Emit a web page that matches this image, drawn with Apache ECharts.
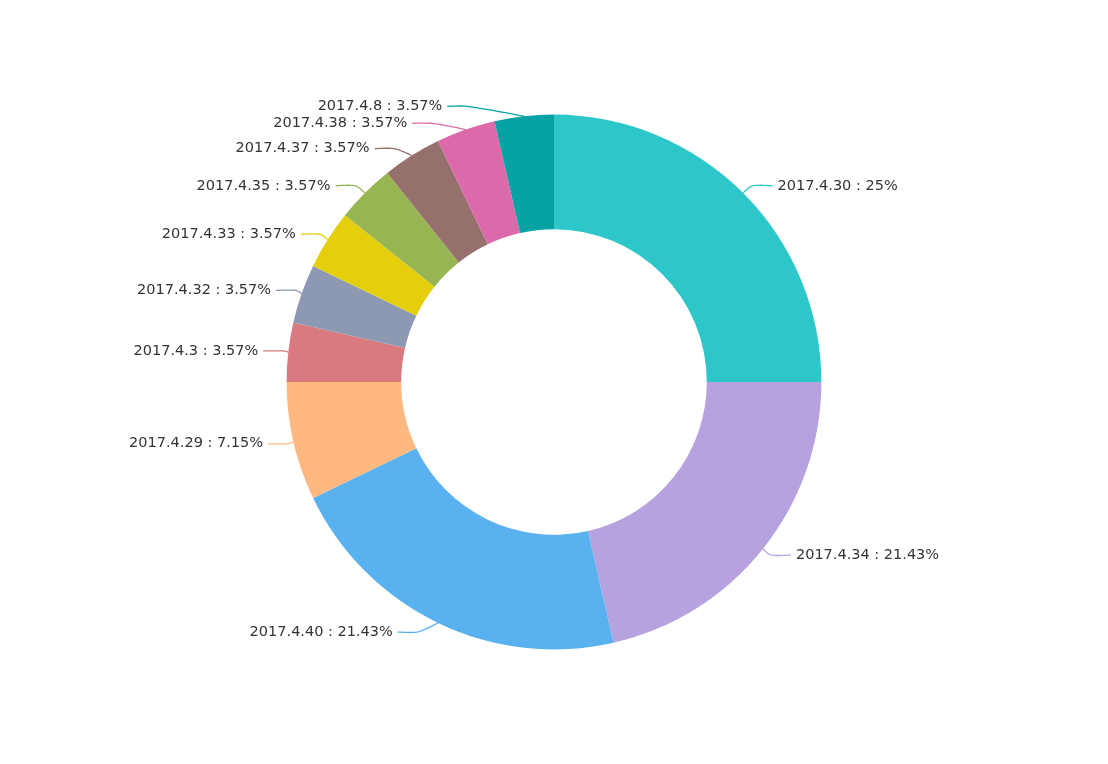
<!DOCTYPE html>
<html>
<head>
<meta charset="utf-8">
<style>html,body{margin:0;padding:0;background:#fff}#main{width:1108px;height:764px}</style>
<script src="https://cdn.jsdelivr.net/npm/echarts@6/dist/echarts.min.js"></script>
</head>
<body>
<div id="main"></div>
<script>
const categories = ['2017.4.30','2017.4.34','2017.4.40','2017.4.29','2017.4.3','2017.4.32','2017.4.33','2017.4.35','2017.4.37','2017.4.38','2017.4.8'];
const values = [7,6,6,2,1,1,1,1,1,1,1];
const colors = ['#2ec7c9','#b6a2de','#5ab1ef','#ffb980','#d87a80','#8d98b3','#e5cf0d','#97b552','#95706d','#dc69aa','#07a2a4'];

const chart = echarts.init(document.getElementById('main'), null, {renderer:'canvas'});

// Label layout (classic pie label placement: labels pushed apart vertically,
// then x re-fitted on a circle of radius r + length + length2)
const RADIUS_IN = 0.40, RADIUS_OUT = 0.70;
const LEN1 = 10, LEN2 = 20, DIST = 5, LABEL_H = 17, SMOOTH = 0.3;

function computeLayout(W, H) {
  const cx = W / 2, cy = H / 2, r = Math.min(W, H) / 2 * RADIUS_OUT;
  const sum = values.reduce((a, b) => a + b, 0);
  let cum = 0;
  const items = values.map((v, i) => {
    const a0 = -Math.PI / 2 + cum / sum * 2 * Math.PI;
    cum += v;
    const a1 = -Math.PI / 2 + cum / sum * 2 * Math.PI;
    const mid = (a0 + a1) / 2;
    const dx = Math.cos(mid), dy = Math.sin(mid);
    const x1 = cx + r * dx, y1 = cy + r * dy;
    const x2 = cx + (r + LEN1) * dx, y2 = cy + (r + LEN1) * dy;
    const s = dx < 0 ? -1 : 1;
    const x3 = x2 + s * LEN2;
    return { idx: i, x: x3 + s * DIST, y: y2, height: LABEL_H, len: LEN1, len2: LEN2,
             linePoints: [[x1, y1], [x2, y2], [x3, y2]] };
  });

  function adjustSingleSide(list, dir) {
    list.sort((a, b) => a.y - b.y);
    const viewTop = 0, viewHeight = H;
    function shiftDown(start, end, delta) {
      for (let j = start; j < end; j++) {
        if (list[j].y + delta > viewTop + viewHeight) break;
        list[j].y += delta;
        if (j > start && j + 1 < end && list[j + 1].y > list[j].y + list[j].height) {
          shiftUp(j, delta / 2);
          return;
        }
      }
      shiftUp(end - 1, delta / 2);
    }
    function shiftUp(end, delta) {
      for (let j = end; j >= 0; j--) {
        if (list[j].y - delta < viewTop) break;
        list[j].y -= delta;
        if (j > 0 && list[j].y > list[j - 1].y + list[j - 1].height) break;
      }
    }
    function changeX(sub, isDown) {
      let last = isDown ? Number.MAX_VALUE : 0;
      for (let i = 0; i < sub.length; i++) {
        const dyy = Math.abs(sub[i].y - cy);
        const R = r + sub[i].len + sub[i].len2;
        let dxx = dyy < r + sub[i].len ? Math.sqrt(R * R - dyy * dyy) : Math.abs(sub[i].x - cx);
        if (isDown && dxx >= last) dxx = last - 10;
        if (!isDown && dxx <= last) dxx = last + 10;
        sub[i].x = cx + dxx * dir;
        last = dxx;
      }
    }
    let lastY = 0;
    const n = list.length;
    for (let i = 0; i < n; i++) {
      const delta = list[i].y - lastY;
      if (delta < 0) shiftDown(i, n, -delta);
      lastY = list[i].y + list[i].height;
    }
    if (viewHeight - lastY < 0) shiftUp(n - 1, lastY - viewHeight);
    const up = [], down = [];
    list.forEach(it => (it.y >= cy ? down : up).push(it));
    changeX(up, false);
    changeX(down, true);
  }

  const left = items.filter(it => it.x < cx), right = items.filter(it => it.x >= cx);
  adjustSingleSide(right, 1);
  adjustSingleSide(left, -1);

  items.forEach(it => {
    const lp = it.linePoints;
    const dist = lp[1][0] - lp[2][0];
    lp[2][0] = it.x < cx ? it.x + DIST : it.x - DIST;
    lp[1][0] = lp[2][0] + dist;
    lp[1][1] = lp[2][1] = it.y;
    it.align = it.x < cx ? 'right' : 'left';
    it.curve = smoothPolyline(lp, SMOOTH);
  });
  return items;
}

function smoothPolyline(p, smooth) {
  const [p0, p1, p2] = p;
  const v = [(p2[0] - p0[0]) * smooth, (p2[1] - p0[1]) * smooth];
  let d0 = Math.hypot(p1[0] - p0[0], p1[1] - p0[1]);
  let d1 = Math.hypot(p2[0] - p1[0], p2[1] - p1[1]);
  const s = d0 + d1;
  if (s) { d0 /= s; d1 /= s; }
  const c0 = [p1[0] - v[0] * d0, p1[1] - v[1] * d0];
  const c1 = [p1[0] + v[0] * d1, p1[1] + v[1] * d1];
  const out = [];
  function bez(a, b, c, d) {
    const N = 16;
    for (let k = (out.length ? 1 : 0); k <= N; k++) {
      const t = k / N, u = 1 - t;
      out.push([
        u*u*u*a[0] + 3*u*u*t*b[0] + 3*u*t*t*c[0] + t*t*t*d[0],
        u*u*u*a[1] + 3*u*u*t*b[1] + 3*u*t*t*c[1] + t*t*t*d[1]
      ]);
    }
  }
  bez(p0, p0, c0, p1);
  bez(p1, c1, p2, p2);
  return out;
}

const layoutItems = computeLayout(chart.getWidth(), chart.getHeight());

chart.setOption({
  color: colors,
  animation: false,
  series: [{
    type: 'pie',
    center: ['50%','50%'],
    radius: [RADIUS_IN * 100 + '%', RADIUS_OUT * 100 + '%'],
    startAngle: 90,
    clockwise: true,
    data: categories.map((c,i)=>({name:c, value: values[i]})),
    label: {
      formatter: '{b} : {d}%',
      color: '#333',
      fontSize: 14.5,
      fontFamily: 'DejaVu Sans, sans-serif'
    },
    labelLine: { length: LEN1, length2: LEN2, smooth: false, lineStyle: { width: 1.3 } },
    labelLayout: function (params) {
      const it = layoutItems[params.dataIndex];
      return {
        x: it.x, y: it.y, align: it.align, verticalAlign: 'middle',
        labelLinePoints: it.curve
      };
    }
  }]
});
</script>
</body>
</html>
